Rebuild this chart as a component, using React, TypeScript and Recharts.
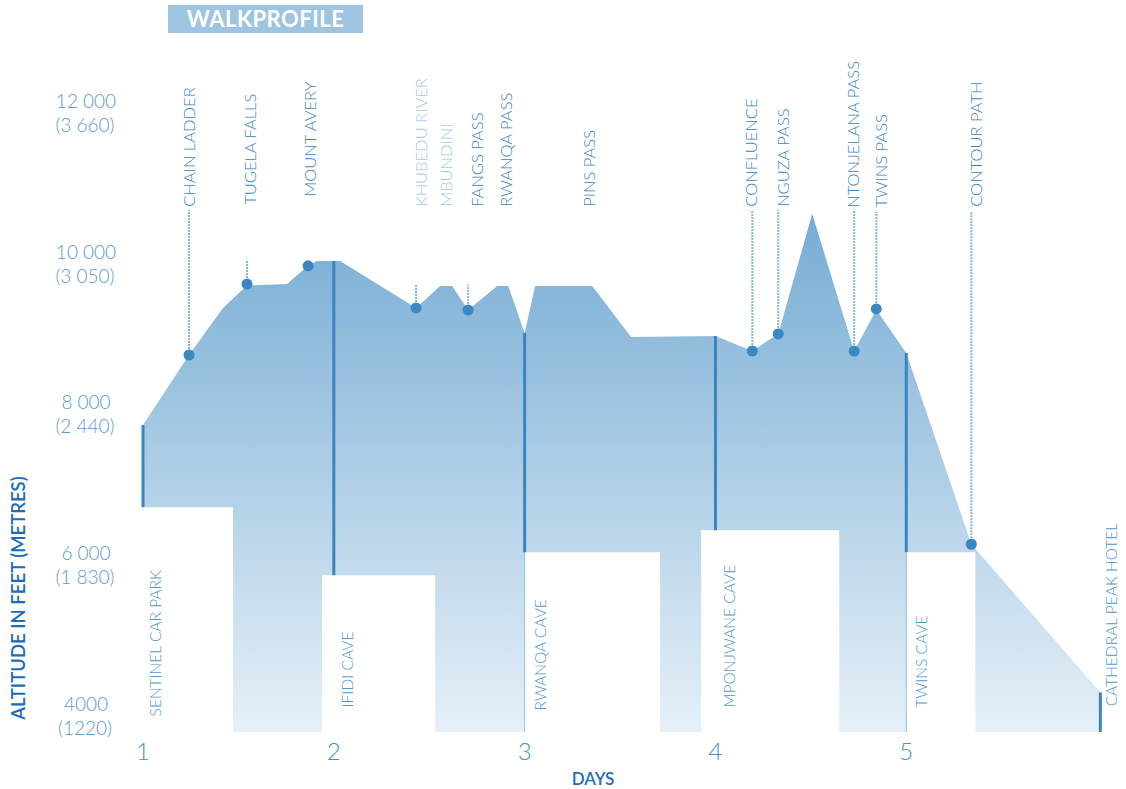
import {
  ComposedChart,
  Area,
  Scatter,
  XAxis,
  YAxis,
  ReferenceArea,
  ReferenceLine,
  Label,
} from "recharts";

const FONT = "Lato, 'Open Sans', sans-serif";

// axes
const dayTicks = [1, 2, 3, 4, 5];
const altTicks = [4000, 6000, 8000, 10000, 12000];
const altFeet = ["4000", "6 000", "8 000", "10 000", "12 000"];
const altMetres = ["(1220)", "(1 830)", "(2 440)", "(3 050)", "(3 660)"];

// the walk: day number vs altitude in feet
const profileDays = [
  1.0, 1.241, 1.419, 1.545, 1.755, 1.865, 1.912, 2.033, 2.431, 2.557, 2.62, 2.704,
  2.856, 2.914, 3.0, 3.055, 3.354, 3.558, 4.0, 4.193, 4.329, 4.507, 4.727, 4.843,
  5.0, 5.341, 6.017,
];
const profileAlts = [
  7870, 8800, 9424, 9720, 9743, 9982, 10048, 10048, 9424, 9716, 9716, 9398,
  9716, 9716, 9092, 9716, 9716, 9039, 9052, 8853, 9079, 10672, 8853, 9400,
  8827, 6290, 4325,
];

// overnight stops (white boxes cut out of the profile)
const campFrom = [1.0, 1.938, 3.0, 3.925, 5.0];
const campTo = [1.472, 2.531, 3.71, 4.649, 5.362];
const campTop = [6782, 5879, 6184, 6476, 6184];

const stopNames = [
  "SENTINEL CAR PARK",
  "IFIDI CAVE",
  "RWANQA CAVE",
  "MPONJWANE CAVE",
  "TWINS CAVE",
  "CATHEDRAL PEAK HOTEL",
];
const stopDays = [1.063, 2.069, 3.081, 4.072, 5.079, 6.075];
const stopAlts = [4007, 4126, 4086, 4126, 4126, 4140];

// day markers
const dayLineDays = [1, 2, 3, 4, 5, 6.017];
const dayLineTop = [7870, 10048, 9092, 9052, 8827, 4325];
const dayLineBottom = [6782, 5879, 6184, 6476, 6184, 3800];
const edgeDays = [3, 5];
const edgeTop = [6184, 6184];

// waypoints
const wayNames = [
  "CHAIN LADDER",
  "TUGELA FALLS",
  "MOUNT AVERY",
  "KHUBEDU RIVER",
  "MBUNDINI",
  "FANGS PASS",
  "RWANQA PASS",
  "PINS PASS",
  "CONFLUENCE",
  "NGUZA PASS",
  "NTONJELANA PASS",
  "TWINS PASS",
  "CONTOUR PATH",
];
const wayLabelDays = [1.241, 1.561, 1.875, 2.457, 2.588, 2.751, 2.903, 3.338, 4.187, 4.355, 4.722, 4.869, 5.367];
const wayLabelAlts = [10765, 10792, 10898, 10765, 10765, 10765, 10765, 10765, 10765, 10765, 10752, 10752, 10765];
const wayFaded = [false, false, false, true, true, false, false, false, false, false, false, false, false];
const wayDotDays = [1.241, 1.545, 1.865, 2.431, null, 2.704, null, null, 4.193, 4.329, 4.727, 4.843, 5.341];
const wayDotAlts = [8800, 9740, 9982, 9424, null, 9398, null, null, 8853, 9079, 8853, 9411, 6290];
const wayLeaderTop = [10725, 10062, null, 9730, null, 9730, null, null, 10725, 10725, 10725, 10700, 10700];

function AltTick({ x, y, payload }: any) {
  const i = altTicks.indexOf(payload.value);
  return (
    <g fill="#5b9ad0" fontSize={19} fontWeight={300} fontFamily={FONT}>
      <text x={x - 57} y={y - 6} textAnchor="middle">{altFeet[i]}</text>
      <text x={x - 58} y={y + 18} textAnchor="middle">{altMetres[i]}</text>
    </g>
  );
}

function DayTick({ x, y, payload }: any) {
  return (
    <text x={x} y={y + 28} textAnchor="middle" fontSize={24} fontWeight={300} fill="#4a8fc9" fontFamily={FONT}>
      {payload.value}
    </text>
  );
}

function DotShape({ cx, cy }: any) {
  return <circle cx={cx} cy={cy} r={5.5} fill="#3a87c2" />;
}

function WayLabel({ cx, cy, payload }: any) {
  return (
    <text
      x={cx}
      y={cy}
      dy="0.36em"
      transform={`rotate(-90 ${cx} ${cy})`}
      fontSize={16.5}
      fontWeight={300}
      fontFamily={FONT}
      fill={payload.faded ? "#a3c7e6" : "#3985c3"}
    >
      {payload.name}
    </text>
  );
}

function StopLabel({ cx, cy, payload }: any) {
  return (
    <text
      x={cx}
      y={cy}
      dy="0.36em"
      transform={`rotate(-90 ${cx} ${cy})`}
      fontSize={15.5}
      fontWeight={300}
      fontFamily={FONT}
      fill="#5299d0"
    >
      {payload.name}
    </text>
  );
}

export default function App() {
  const profile = profileDays.map((day, i) => ({ day, alt: profileAlts[i] }));
  const dots = wayDotDays
    .map((day, i) => ({ day, alt: wayDotAlts[i] }))
    .filter((d) => d.day != null);
  const wayLabels = wayNames.map((name, i) => ({
    name,
    day: wayLabelDays[i],
    alt: wayLabelAlts[i],
    faded: wayFaded[i],
  }));
  const stops = stopNames.map((name, i) => ({ name, day: stopDays[i], alt: stopAlts[i] }));

  return (
    <div style={{ position: "absolute", left: 0, top: 0, width: 1126, height: 789, background: "#fff", fontFamily: FONT }}>
      <div
        style={{
          position: "absolute",
          left: 168,
          top: 5,
          width: 195,
          height: 28,
          background: "#9dc5e1",
          color: "#fff",
          fontWeight: 700,
          fontSize: 22,
          lineHeight: "28px",
          textAlign: "center",
          letterSpacing: 0.5,
        }}
      >
        WALKPROFILE
      </div>
      <ComposedChart width={1126} height={789} margin={{ top: 76, right: 6, bottom: 0, left: 0 }}>
        <defs>
          <linearGradient id="walkFill" x1="0" y1="0" x2="0" y2="1">
            <stop offset="0%" stopColor="#76acd4" />
            <stop offset="100%" stopColor="#e6f0f8" />
          </linearGradient>
        </defs>
        <XAxis
          type="number"
          dataKey="day"
          domain={[1, 6.12]}
          ticks={dayTicks}
          interval={0}
          height={57}
          axisLine={false}
          tickLine={false}
          tickSize={0}
          tickMargin={0}
          tick={<DayTick />}
        >
          <Label
            content={({ viewBox }: any) => (
              <text
                x={viewBox.x + 450}
                y={viewBox.y + 53}
                textAnchor="middle"
                fontSize={17}
                fontWeight={600}
                fill="#1f70b8"
                fontFamily={FONT}
              >
                DAYS
              </text>
            )}
          />
        </XAxis>
        <YAxis
          type="number"
          dataKey="alt"
          domain={[3800, 12500]}
          ticks={altTicks}
          interval={0}
          width={143}
          axisLine={false}
          tickLine={false}
          tickSize={0}
          tickMargin={0}
          tick={<AltTick />}
        >
          <Label
            content={({ viewBox }: any) => (
              <text
                x={viewBox.x + 18}
                y={viewBox.y + 522}
                dy="0.36em"
                transform={`rotate(-90 ${viewBox.x + 18} ${viewBox.y + 522})`}
                textAnchor="middle"
                fontSize={18.5}
                fontWeight={600}
                fill="#1c6db3"
                fontFamily={FONT}
              >
                ALTITUDE IN FEET (METRES)
              </text>
            )}
          />
        </YAxis>
        <Area
          data={profile}
          dataKey="alt"
          type="linear"
          stroke="none"
          fill="url(#walkFill)"
          fillOpacity={1}
          isAnimationActive={false}
        />
        {campFrom.map((from, i) => (
          <ReferenceArea
            key={`camp-${i}`}
            x1={from}
            x2={campTo[i]}
            y1={3800}
            y2={campTop[i]}
            fill="#ffffff"
            fillOpacity={1}
            stroke="none"
          />
        ))}
        {edgeDays.map((d, i) => (
          <ReferenceLine
            key={`edge-${i}`}
            segment={[
              { x: d, y: 3800 },
              { x: d, y: edgeTop[i] },
            ]}
            stroke="#8fbfe3"
            strokeWidth={1}
          />
        ))}
        {dayLineDays.map((d, i) => (
          <ReferenceLine
            key={`day-${i}`}
            segment={[
              { x: d, y: dayLineBottom[i] },
              { x: d, y: dayLineTop[i] },
            ]}
            stroke="#3a84bf"
            strokeWidth={3}
          />
        ))}
        {wayNames.map((_, i) =>
          wayLeaderTop[i] == null ? null : (
            <ReferenceLine
              key={`lead-${i}`}
              segment={[
                { x: wayDotDays[i], y: wayDotAlts[i] },
                { x: wayDotDays[i], y: wayLeaderTop[i] },
              ]}
              stroke="#86b6de"
              strokeWidth={2}
              strokeDasharray="2 1"
            />
          )
        )}
        <Scatter data={dots} dataKey="alt" shape={<DotShape />} isAnimationActive={false} />
        <Scatter data={wayLabels} dataKey="alt" shape={<WayLabel />} isAnimationActive={false} />
        <Scatter data={stops} dataKey="alt" shape={<StopLabel />} isAnimationActive={false} />
      </ComposedChart>
    </div>
  );
}
